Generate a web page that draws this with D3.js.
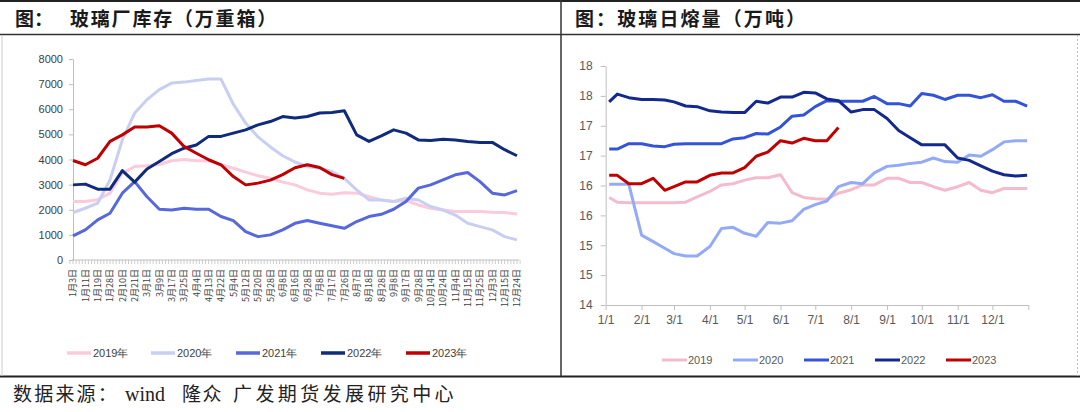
<!DOCTYPE html>
<html><head><meta charset="utf-8">
<script src="https://cdn.jsdelivr.net/npm/d3@7"></script>
<style>body{margin:0;background:#fff;} svg{display:block;}</style>
</head><body><svg id="c" width="1080" height="412"></svg>
<script>
// ---------- Left chart: 玻璃厂库存（万重箱） ----------
const invLabels = ["1月3日","1月11日","1月19日","1月28日","2月10日","2月21日","3月1日","3月9日","3月17日","3月25日","4月4日","4月13日","4月22日","5月4日","5月12日","5月20日","5月28日","6月8日","6月16日","6月28日","7月8日","7月17日","7月26日","8月7日","8月18日","8月28日","9月8日","9月17日","9月28日","10月14日","10月24日","11月4日","11月15日","11月25日","12月3日","12月15日","12月24日"];
const inv2019 = [2330,2330,2400,2660,3450,3720,3750,3800,3950,4000,3950,3950,3800,3650,3500,3350,3250,3100,2990,2790,2660,2620,2680,2660,2520,2390,2330,2370,2190,2060,1990,1930,1930,1930,1900,1890,1830];
const inv2020 = [1890,2060,2260,3190,4780,5850,6380,6780,7040,7080,7140,7200,7200,6200,5450,4900,4500,4150,3900,3720,3650,3520,3250,2790,2390,2390,2330,2460,2390,2130,1990,1790,1460,1330,1200,930,800];
const inv2021 = [960,1200,1600,1860,2660,3120,2520,2020,1990,2060,2020,2020,1730,1570,1130,930,1000,1200,1460,1570,1460,1360,1260,1530,1730,1820,2020,2330,2860,2990,3190,3390,3480,3120,2660,2590,2760];
const inv2022 = [2990,3020,2820,2820,3560,3100,3620,3920,4230,4450,4580,4920,4920,5050,5180,5380,5510,5710,5650,5710,5850,5870,5940,4980,4720,4940,5180,5050,4780,4760,4810,4780,4720,4680,4680,4390,4150];
const inv2023 = [3960,3790,4050,4720,4980,5290,5290,5340,5050,4520,4250,3990,3790,3320,2990,3060,3180,3400,3670,3790,3680,3400,3250];
const invYTicks = ["0","1000","2000","3000","4000","5000","6000","7000","8000"];
const invNames = ["2019年","2020年","2021年","2022年","2023年"];
const invColors = ["#FBCADB","#C9CEF3","#5668DC","#0E2B7C","#C00000"];

// ---------- Right chart: 玻璃日熔量（万吨） ----------
const meltDates = ["1/4","1/11","1/21","2/1","2/11","2/21","3/1","3/11","3/21","4/1","4/11","4/21","5/1","5/11","5/21","6/1","6/11","6/21","7/1","7/11","7/21","8/1","8/11","8/21","9/1","9/11","9/21","10/1","10/11","10/21","11/1","11/11","11/21","12/1","12/11","12/21","12/31"];
const melt2019 = [15.80,15.72,15.71,15.71,15.71,15.71,15.71,15.72,15.81,15.90,16.01,16.03,16.09,16.13,16.13,16.18,15.88,15.80,15.78,15.77,15.87,15.93,16.01,16.01,16.12,16.12,16.05,16.05,15.98,15.92,15.98,16.05,15.92,15.88,15.95,15.95,15.95];
const melt2020 = [16.02,16.02,16.02,15.17,15.06,14.95,14.86,14.82,14.82,14.98,15.28,15.30,15.20,15.15,15.38,15.37,15.41,15.60,15.68,15.74,15.98,16.05,16.03,16.21,16.32,16.34,16.37,16.39,16.46,16.40,16.39,16.51,16.49,16.60,16.73,16.75,16.75];
const melt2021 = [16.61,16.61,16.70,16.70,16.66,16.65,16.69,16.70,16.70,16.70,16.70,16.78,16.80,16.87,16.86,16.98,17.16,17.18,17.32,17.42,17.41,17.41,17.41,17.49,17.37,17.37,17.33,17.54,17.51,17.44,17.51,17.51,17.47,17.52,17.41,17.41,17.33];
const melt2022 = [17.40,17.53,17.47,17.44,17.44,17.43,17.40,17.33,17.32,17.25,17.23,17.22,17.22,17.41,17.38,17.48,17.48,17.56,17.55,17.45,17.42,17.23,17.27,17.27,17.12,16.92,16.80,16.68,16.68,16.68,16.46,16.42,16.33,16.24,16.18,16.16,16.17];
const melt2023 = [16.17,16.17,16.03,16.03,16.12,15.92,15.98,16.06,16.06,16.17,16.21,16.21,16.30,16.49,16.56,16.75,16.71,16.79,16.75,16.75,16.97];
const meltYTicks = ["14","15","15","16","16","17","17","18","18"];
const meltNames = ["2019","2020","2021","2022","2023"];
const meltColors = ["#F5BACB","#93AAF6","#3454D8","#13298F","#C00000"];

const svg = d3.select("#c");
const cjk = "'Noto Sans CJK SC','Noto Sans',sans-serif";
const lab = "'Liberation Sans',Arial,sans-serif";

// ---------- frame ----------
svg.append("line").attr("x1",0).attr("x2",1080).attr("y1",1).attr("y2",1).attr("stroke","#222").attr("stroke-width",2);
svg.append("line").attr("x1",0).attr("x2",1080).attr("y1",34.5).attr("y2",34.5).attr("stroke","#333").attr("stroke-width",1.5);
svg.append("line").attr("x1",0).attr("x2",1080).attr("y1",376.5).attr("y2",376.5).attr("stroke","#222").attr("stroke-width",2);
svg.append("line").attr("x1",561).attr("x2",561).attr("y1",0).attr("y2",376).attr("stroke","#333").attr("stroke-width",1.5);
svg.append("line").attr("x1",2).attr("x2",2).attr("y1",35).attr("y2",376).attr("stroke","#ccc").attr("stroke-width",1);
svg.append("line").attr("x1",1077.5).attr("x2",1077.5).attr("y1",35).attr("y2",376).attr("stroke","#bbb").attr("stroke-width",1).attr("stroke-dasharray","2,2");

// titles
svg.append("text").attr("x",15).attr("y",26).attr("font-family",cjk).attr("font-weight",700).attr("font-size",19).attr("fill","#1a1a1a").text("图：");
svg.append("text").attr("x",70).attr("y",26).attr("font-family",cjk).attr("font-weight",700).attr("font-size",19).attr("letter-spacing",1.8).attr("fill","#1a1a1a").text("玻璃厂库存（万重箱）");
svg.append("text").attr("x",575).attr("y",26).attr("font-family",cjk).attr("font-weight",700).attr("font-size",19).attr("letter-spacing",2.1).attr("fill","#1a1a1a").text("图：玻璃日熔量（万吨）");

// source
const src = svg.append("g").attr("fill","#222");
src.append("text").attr("x",13).attr("y",401).attr("font-family",cjk).attr("font-size",19).attr("letter-spacing",2.2).text("数据来源：");
src.append("text").attr("x",125).attr("y",401).attr("font-family","'Liberation Serif',serif").attr("font-size",20).text("wind");
src.append("text").attr("x",182).attr("y",401).attr("font-family",cjk).attr("font-size",19).attr("letter-spacing",1.5).text("隆众");
src.append("text").attr("x",233).attr("y",401).attr("font-family",cjk).attr("font-size",19).attr("letter-spacing",3.4).text("广发期货发展研究中心");

// ---------- left chart ----------
const xL = d3.scaleLinear().domain([0, invLabels.length-1]).range([73,517]);
const yL = d3.scaleLinear().domain([0,8000]).range([260,59]);
const gL = svg.append("g");
const yAxL = d3.axisLeft(yL).tickValues(d3.range(0,8001,1000)).tickFormat((d,i)=>invYTicks[i]).tickSize(4).tickSizeOuter(0);
const gy = gL.append("g").attr("transform","translate(73,0)").call(yAxL);
gy.select(".domain").attr("stroke","#bfbfbf");
gy.selectAll(".tick line").attr("stroke","#bfbfbf");
gy.selectAll("text").attr("font-family",lab).attr("font-size",11).attr("fill","#404040").attr("x",-10);
gL.append("line").attr("x1",72).attr("x2",519).attr("y1",260).attr("y2",260).attr("stroke","#bfbfbf");
const minor = d3.range(-0.25, invLabels.length-1+0.26, 0.25);
gL.selectAll(".mt").data(minor).join("line").attr("x1",d=>xL(d)).attr("x2",d=>xL(d)).attr("y1",260).attr("y2",264).attr("stroke","#bfbfbf").attr("stroke-width",0.8);
gL.selectAll(".xl").data(invLabels).join("text")
  .attr("transform",(d,i)=>`translate(${xL(i)+3.3},269) rotate(-90)`)
  .attr("text-anchor","end").attr("font-family",cjk).attr("font-size",9).attr("fill","#404040").text(d=>d);
const invSeries = [inv2019,inv2020,inv2021,inv2022,inv2023];
const lineL = d3.line().x((d,i)=>xL(i)).y(d=>yL(d));
invSeries.forEach((s,k)=>{
  gL.append("path").attr("d",lineL(s)).attr("fill","none").attr("stroke",invColors[k]).attr("stroke-width",3).attr("stroke-linejoin","round");
});
const legLx = [67,151,236,321,406];
invNames.forEach((n,k)=>{
  gL.append("line").attr("x1",legLx[k]).attr("x2",legLx[k]+24).attr("y1",353).attr("y2",353).attr("stroke",invColors[k]).attr("stroke-width",3.5);
  gL.append("text").attr("x",legLx[k]+26).attr("y",357).attr("font-family",lab).attr("font-size",11).attr("fill","#404040").text(n);
});

// ---------- right chart ----------
const parse = d3.timeParse("%Y/%m/%d");
const dts = meltDates.map(d=>parse("2021/"+d));
const xR = d3.scaleTime().domain([new Date(2021,0,1), new Date(2022,0,1)]).range([605.7,1028.3]);
const yR = d3.scaleLinear().domain([14,18]).range([305,66]);
const gR = svg.append("g");
const yAxR = d3.axisLeft(yR).tickValues(d3.range(14,18.01,0.5)).tickFormat((d,i)=>meltYTicks[i]).tickSize(5).tickSizeOuter(0);
const gyr = gR.append("g").attr("transform","translate(605.7,0)").call(yAxR);
gyr.select(".domain").attr("stroke","#bfbfbf");
gyr.selectAll(".tick line").attr("stroke","#bfbfbf");
gyr.selectAll("text").attr("font-family",lab).attr("font-size",12).attr("fill","#595959").attr("x",-13);
const monthTicks = d3.timeMonth.range(new Date(2021,0,1), new Date(2022,0,2));
const xAxR = d3.axisBottom(xR).tickValues(monthTicks).tickFormat((d)=> d.getFullYear()===2022 ? "" : d3.timeFormat("%-m/%-d")(d)).tickSize(5).tickSizeOuter(0);
const gxr = gR.append("g").attr("transform","translate(0,305)").call(xAxR);
gxr.select(".domain").attr("stroke","#bfbfbf");
gxr.selectAll(".tick line").attr("stroke","#bfbfbf");
gxr.selectAll("text").attr("font-family",lab).attr("font-size",12).attr("fill","#595959").attr("dy","0.9em");
const meltSeries = [melt2019,melt2020,melt2021,melt2022,melt2023];
const lineR = d3.line().x((d,i)=>xR(dts[i])).y(d=>yR(d));
meltSeries.forEach((s,k)=>{
  gR.append("path").attr("d",lineR(s)).attr("fill","none").attr("stroke",meltColors[k]).attr("stroke-width",3).attr("stroke-linejoin","round");
});
const legRx = [662,733,804,875,946];
meltNames.forEach((n,k)=>{
  gR.append("line").attr("x1",legRx[k]).attr("x2",legRx[k]+25).attr("y1",360).attr("y2",360).attr("stroke",meltColors[k]).attr("stroke-width",3);
  gR.append("text").attr("x",legRx[k]+26).attr("y",364).attr("font-family",lab).attr("font-size",11).attr("fill","#595959").text(n);
});
</script></body></html>
